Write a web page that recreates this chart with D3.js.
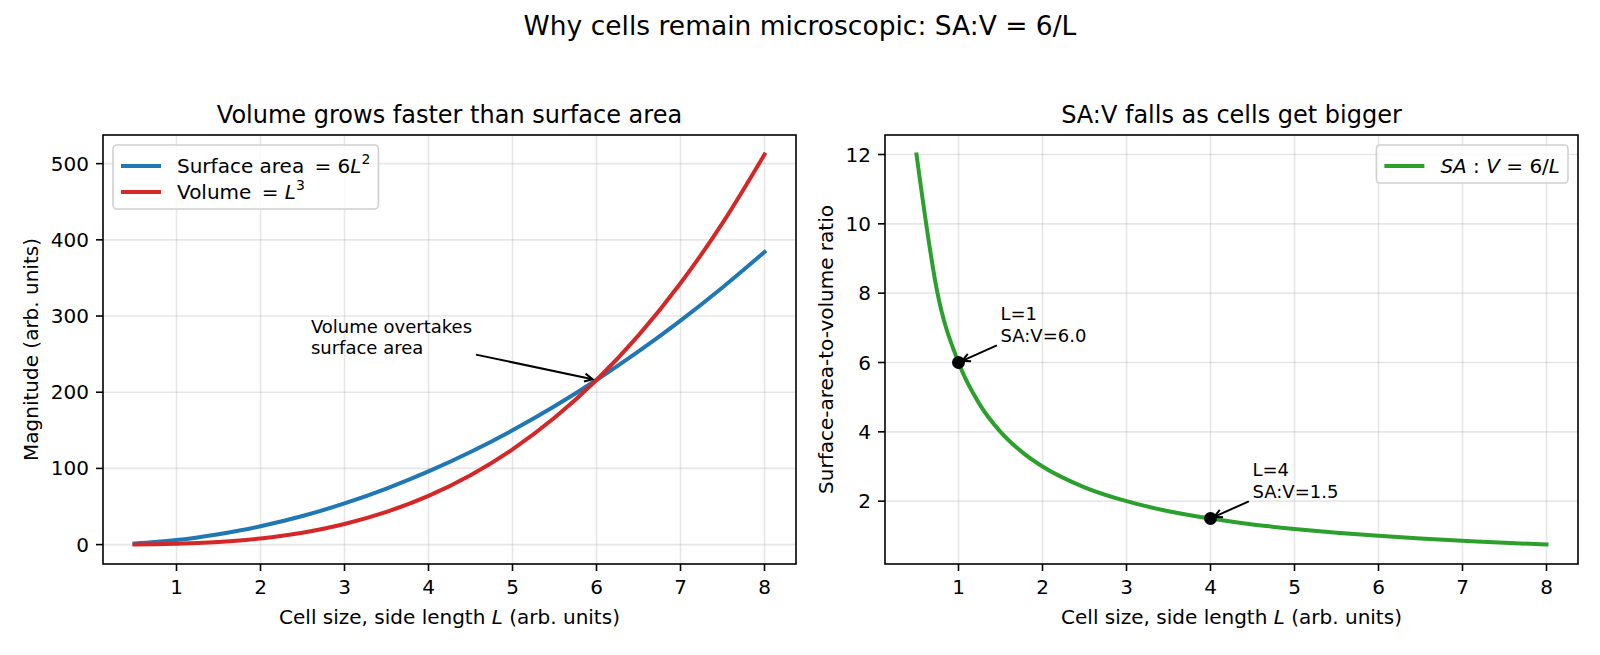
<!DOCTYPE html>
<html>
<head>
<meta charset="utf-8">
<script src="https://cdn.jsdelivr.net/npm/d3@7"></script>
<style>
  html, body { margin: 0; padding: 0; background: #fff; }
  svg { display: block; font-family: "DejaVu Sans", sans-serif; }
</style>
</head>
<body>
<svg id="fig" width="1600" height="655"></svg>
<script>
const L_VALS  = [0.5, 0.75, 1, 1.25, 1.5, 1.75, 2, 2.5, 3, 3.5, 4, 4.5, 5, 5.5, 6, 6.5, 7, 7.5, 8];
const SURFACE = [1.5, 3.4, 6, 9.4, 13.5, 18.4, 24, 37.5, 54, 73.5, 96, 121.5, 150, 181.5, 216, 253.5, 294, 337.5, 384];
const VOLUME  = [0.125, 0.42, 1, 1.95, 3.4, 5.4, 8, 15.6, 27, 42.9, 64, 91.1, 125, 166.4, 216, 274.6, 343, 421.9, 512];
const RATIO   = [12, 8, 6, 4.8, 4, 3.43, 3, 2.4, 2, 1.71, 1.5, 1.33, 1.2, 1.09, 1, 0.92, 0.86, 0.8, 0.75];

const X_TICKS = [1, 2, 3, 4, 5, 6, 7, 8];
const Y_TICKS_LEFT = [0, 100, 200, 300, 400, 500];
const Y_TICKS_RIGHT = [2, 4, 6, 8, 10, 12];

// annotations (data coords: point, text anchor)
const CROSS_NOTE = { x: 6, y: 216, tx: 2.6, ty: 250, lines: ["Volume overtakes", "surface area"] };
const POINT_NOTES = [
  { x: 1, y: 6,   tx: 1.5, ty: 6.6, lines: ["L=1", "SA:V=6.0"] },
  { x: 4, y: 1.5, tx: 4.5, ty: 2.1, lines: ["L=4", "SA:V=1.5"] },
];

const C = { blue: "#1f77b4", red: "#d62728", green: "#2ca02c", grid: "#b0b0b0" };
const TOP = 135, BOT = 564;

const svg = d3.select("#fig");

svg.append("text")
  .attr("x", 800).attr("y", 35).attr("text-anchor", "middle")
  .attr("font-size", 26.5).text("Why cells remain microscopic: SA:V = 6/L");

// matplotlib-ish 5% margins
function padded(vals) {
  const [a, b] = d3.extent(vals);
  const m = (b - a) * 0.05;
  return [a - m, b + m];
}

function panel(o) {
  const g = svg.append("g");
  const x = d3.scaleLinear().domain(padded(L_VALS)).range([o.x0, o.x1]);
  const y = d3.scaleLinear().domain(padded(o.yAll)).range([BOT, TOP]);

  // grid
  X_TICKS.forEach(t => g.append("line")
    .attr("x1", x(t)).attr("x2", x(t)).attr("y1", TOP).attr("y2", BOT)
    .attr("stroke", C.grid).attr("stroke-opacity", 0.3).attr("stroke-width", 1.6));
  o.yTicks.forEach(t => g.append("line")
    .attr("x1", o.x0).attr("x2", o.x1).attr("y1", y(t)).attr("y2", y(t))
    .attr("stroke", C.grid).attr("stroke-opacity", 0.3).attr("stroke-width", 1.6));

  // curves
  const line = d3.line().x(d => x(d[0])).y(d => y(d[1])).curve(d3.curveMonotoneX);
  o.series.forEach(s => g.append("path")
    .attr("d", line(L_VALS.map((l, i) => [l, s.values[i]])))
    .attr("fill", "none").attr("stroke", s.color).attr("stroke-width", 4)
    .attr("stroke-linecap", "square"));

  // spines
  g.append("rect").attr("x", o.x0).attr("y", TOP)
    .attr("width", o.x1 - o.x0).attr("height", BOT - TOP)
    .attr("fill", "none").attr("stroke", "#000").attr("stroke-width", 1.6);

  // ticks
  X_TICKS.forEach(t => {
    g.append("line").attr("x1", x(t)).attr("x2", x(t)).attr("y1", BOT).attr("y2", BOT + 7)
      .attr("stroke", "#000").attr("stroke-width", 1.6);
    g.append("text").attr("x", x(t)).attr("y", BOT + 30).attr("text-anchor", "middle")
      .attr("font-size", 20).text(t);
  });
  o.yTicks.forEach(t => {
    g.append("line").attr("x1", o.x0 - 7).attr("x2", o.x0).attr("y1", y(t)).attr("y2", y(t))
      .attr("stroke", "#000").attr("stroke-width", 1.6);
    g.append("text").attr("x", o.x0 - 14).attr("y", y(t) + 7).attr("text-anchor", "end")
      .attr("font-size", 20).text(t);
  });

  // titles & labels
  const cx = (o.x0 + o.x1) / 2;
  g.append("text").attr("x", cx).attr("y", 123).attr("text-anchor", "middle")
    .attr("font-size", 24).text(o.title);
  const xl = g.append("text").attr("x", cx).attr("y", 624).attr("text-anchor", "middle")
    .attr("font-size", 20);
  xl.append("tspan").text("Cell size, side length ");
  xl.append("tspan").attr("font-style", "italic").text("L");
  xl.append("tspan").text(" (arb. units)");
  g.append("text")
    .attr("transform", `translate(${o.ylabelX},${(TOP + BOT) / 2}) rotate(-90)`)
    .attr("text-anchor", "middle").attr("dominant-baseline", "central")
    .attr("font-size", 20).text(o.ylabel);

  return { g, x, y };
}

// text block + arrow like plt.annotate(arrowstyle="->")
function annotate(p, note) {
  const px = p.x(note.x), py = p.y(note.y);
  const tx = p.x(note.tx), ty = p.y(note.ty);
  const t = p.g.append("text").attr("font-size", 18);
  const n = note.lines.length;
  note.lines.forEach((s, i) => t.append("tspan")
    .attr("x", tx).attr("y", ty - (n - 1 - i) * 21.6).text(s));
  const bb = t.node().getBBox();
  const cx = bb.x + bb.width / 2, cy = bb.y + bb.height / 2;
  const dx = px - cx, dy = py - cy;
  // leave the text box
  const k = Math.min(Math.abs((bb.width / 2) / dx) || Infinity, Math.abs((bb.height / 2) / dy) || Infinity);
  const len = Math.hypot(dx, dy);
  const ux = dx / len, uy = dy / len;
  const sx = cx + dx * k + ux * 4, sy = cy + dy * k + uy * 4;
  const ex = px - ux * 4, ey = py - uy * 4;
  p.g.append("line").attr("x1", sx).attr("y1", sy).attr("x2", ex).attr("y2", ey)
    .attr("stroke", "#000").attr("stroke-width", 2);
  const hl = 8, hw = 4;
  const bx = ex - ux * hl, by = ey - uy * hl;
  p.g.append("path")
    .attr("d", `M${bx - uy * hw},${by + ux * hw}L${ex},${ey}L${bx + uy * hw},${by - ux * hw}`)
    .attr("fill", "none").attr("stroke", "#000").attr("stroke-width", 2);
}

function legend(p, items, side, edgeX) {
  const lg = p.g.append("g");
  const rows = items.map((it, i) => {
    const cy = TOP + 10 + 21 + i * 26;
    const t = lg.append("text").attr("y", cy + 7).attr("font-size", 20);
    it.parts.forEach(pt => {
      const s = t.append("tspan").text(pt.t);
      if (pt.it) s.attr("font-style", "italic");
      if (pt.sup) s.attr("font-size", 14).attr("dy", -9);
    });
    return { it, cy, t };
  });
  const tw = d3.max(rows, r => r.t.node().getBBox().width);
  const w = 8 + 40 + 16 + tw + 8, h = items.length * 26 + 12;
  const x0 = side === "left" ? edgeX : edgeX - w;
  lg.insert("rect", ":first-child")
    .attr("x", x0).attr("y", TOP + 10).attr("width", w).attr("height", h)
    .attr("rx", 4).attr("fill", "#fff").attr("fill-opacity", 0.8)
    .attr("stroke", "#d0d0d0").attr("stroke-width", 1.6);
  rows.forEach(r => {
    lg.append("line").attr("x1", x0 + 8).attr("x2", x0 + 48).attr("y1", r.cy).attr("y2", r.cy)
      .attr("stroke", r.it.color).attr("stroke-width", 4);
    r.t.attr("x", x0 + 64);
  });
}

// left: surface vs volume
const left = panel({
  x0: 103, x1: 796,
  yAll: SURFACE.concat(VOLUME), yTicks: Y_TICKS_LEFT,
  series: [{ values: SURFACE, color: C.blue }, { values: VOLUME, color: C.red }],
  title: "Volume grows faster than surface area",
  ylabel: "Magnitude (arb. units)", ylabelX: 31,
});
annotate(left, CROSS_NOTE);
legend(left, [
  { color: C.blue, parts: [{ t: "Surface area \u2009= 6" }, { t: "L", it: true }, { t: "2", sup: true }] },
  { color: C.red, parts: [{ t: "Volume \u2009= " }, { t: "L", it: true }, { t: "3", sup: true }] },
], "left", 113);

// right: SA:V ratio
const right = panel({
  x0: 885, x1: 1578,
  yAll: RATIO, yTicks: Y_TICKS_RIGHT,
  series: [{ values: RATIO, color: C.green }],
  title: "SA:V falls as cells get bigger",
  ylabel: "Surface-area-to-volume ratio", ylabelX: 826,
});
POINT_NOTES.forEach(n => {
  right.g.append("circle").attr("cx", right.x(n.x)).attr("cy", right.y(n.y))
    .attr("r", 6.5).attr("fill", "#000");
  annotate(right, n);
});
legend(right, [
  { color: C.green, parts: [{ t: "SA", it: true }, { t: " : " }, { t: "V", it: true }, { t: " = 6/" }, { t: "L", it: true }] },
], "right", 1568);
</script>
</body>
</html>
